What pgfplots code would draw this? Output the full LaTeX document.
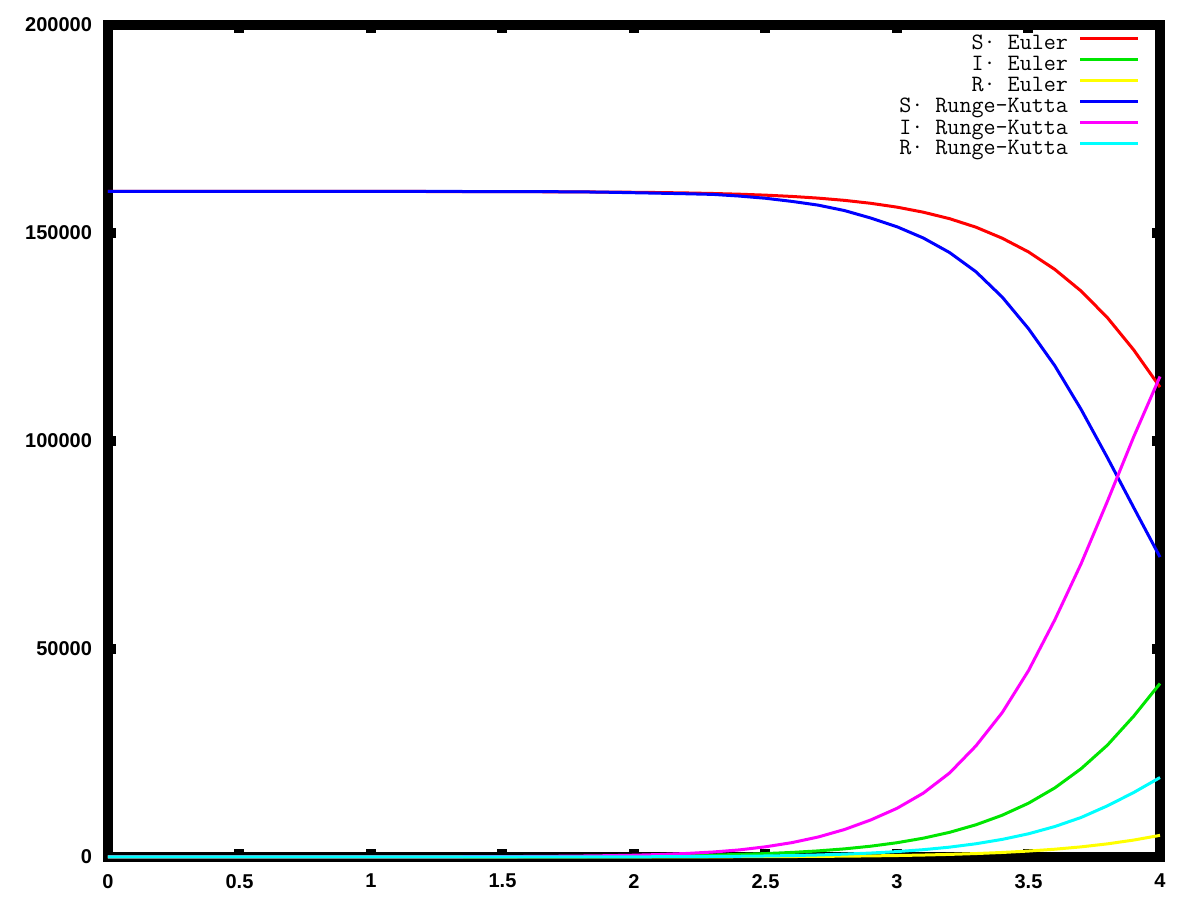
\documentclass[border=0pt]{standalone}
\usepackage{pgfplots}
\usepackage{pgfplotstable}
\pgfplotsset{compat=1.18}
\usepackage{fontspec}
\setmainfont{Liberation Sans}
\definecolor{cRed}{RGB}{255,0,0}
\definecolor{cGreen}{RGB}{0,230,0}
\definecolor{cYellow}{RGB}{255,255,0}
\definecolor{cBlue}{RGB}{0,0,255}
\definecolor{cMag}{RGB}{255,0,255}
\definecolor{cCyan}{RGB}{0,255,255}
\pgfplotstableread{
t    SE      IE     RE     SR        IR      RR
0.0  160000  1      0      160000    1       0
0.1  160000  1.3    0.03   159999.8  1.35    0.04
0.2  159999  1.7    0.08   159999.6  1.83    0.1
0.3  159999  2.2    0.14   159999.3  2.48    0.18
0.4  159998  2.9    0.21   159999    3.36    0.27
0.5  159997  3.7    0.31   159998.6  4.55    0.4
0.6  159996  4.8    0.44   159998    6.2     0.6
0.7  159995  6.3    0.6    159997    8.3     0.85
0.8  159993  8.2    0.82   159996    11.3    1.2
0.9  159990  10.6   1.1    159994    15.3    1.65
1.0  159986  13.8   1.46   159992    20.7    2.3
1.1  159981  17.9   1.93   159989    28      3.1
1.2  159976  23.3   2.54   159985    38      4.2
1.3  159967  30.3   3.33   159979    51      5.7
1.4  159957  39.4   4.36   159971    69      7.7
1.5  159945  51     5.7    159960    94      10.5
1.6  159927  67     7.4    159945    127     14
1.7  159904  87     9.7    159920    172     19
1.8  159875  113    12.7   159880    233     26
1.9  159838  146    16.5   159800    316     35
2.0  159790  190    21.5   159680    430     48
2.1  159721  252    27.9   159560    600     66
2.2  159626  339    36.5   159430    850     91
2.3  159498  455    48     159280    1200    126
2.4  159327  611    63.5   158880    1700    175
2.5  159097  820    84     158350    2450    245
2.6  158791  1098   112    157600    3450    345
2.7  158385  1467   149    156700    4800    488
2.8  157848  1954   199    155400    6600    685
2.9  157141  2595   265    153600    8900    950
3.0  156215  3433   353    151500    11700   1300
3.1  155000  4525   470    148800    15350   1760
3.2  153440  5932   624    145300    20200   2370
3.3  151400  7741   826    140700    26700   3180
3.4  148750  10040  1089   134600    34700   4230
3.5  145450  12932  1430   127000    44800   5580
3.6  141250  16605  1870   118100    57000   7320
3.7  136050  21221  2435   107600    70500   9500
3.8  129650  26887  3156   96000     85500   12300
3.9  121900  33851  4070   84000     101000  15500
4.0  112950  41700  5200   72100     115500  19100
}\sirdata
\begin{document}
\begin{tikzpicture}
\useasboundingbox (-54pt,-21.5pt) rectangle (546pt,428.5pt);
\begin{axis}[
  scale only axis, width=526pt, height=416pt,
  at={(0pt,0pt)}, anchor=south west,
  xmin=0, xmax=4, ymin=0, ymax=200000,
  xtick={0,0.5,1,1.5,2,2.5,3,3.5,4},
  ytick={0,50000,100000,150000,200000},
  scaled ticks=false,
  /pgf/number format/.cd, fixed, 1000 sep={}, assume math mode=true,
  /pgfplots/.cd,
  axis line style={line width=5pt, black},
  tick style={line width=5pt, black},
  major tick length=4pt,
  tick align=inside,
  tick label style={font=\bfseries},
  yticklabel style={xshift=-4.5pt},
  xticklabel style={yshift=-5pt},
  clip=false,
  legend plot pos=right,
  legend cell align=right,
  legend image code/.code={\draw[#1] (0pt,3.0pt) -- (29pt,3.0pt);},
  legend style={draw=none, fill=none, font=\ttfamily\fontsize{11.7}{14}\selectfont, inner sep=0pt, outer sep=0pt,
    at={(rel axis cs:1,1)}, xshift=-10pt, yshift=-4.5pt, anchor=north east,
    row sep=0pt,
    nodes={inner sep=0pt, text height=8pt, text depth=2.5pt},
    /tikz/every odd column/.append style={column sep=5.5pt}},
  every axis plot/.append style={line width=1.5pt},
]
\addplot[cRed, no marks] table[x=t, y=SE] {\sirdata};
\addlegendentry{S· Euler}
\addplot[cGreen, no marks] table[x=t, y=IE] {\sirdata};
\addlegendentry{I· Euler}
\addplot[cYellow, no marks] table[x=t, y=RE] {\sirdata};
\addlegendentry{R· Euler}
\addplot[cBlue, no marks] table[x=t, y=SR] {\sirdata};
\addlegendentry{S· Runge-Kutta}
\addplot[cMag, no marks] table[x=t, y=IR] {\sirdata};
\addlegendentry{I· Runge-Kutta}
\addplot[cCyan, no marks] table[x=t, y=RR] {\sirdata};
\addlegendentry{R· Runge-Kutta}
\end{axis}
\end{tikzpicture}
\end{document}
